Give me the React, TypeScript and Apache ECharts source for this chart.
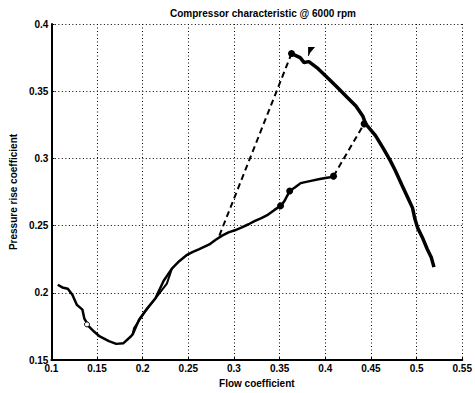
import React, { useEffect, useRef } from "react";
import * as echarts from "echarts";

const xTicks = [0.1, 0.15, 0.2, 0.25, 0.3, 0.35, 0.4, 0.45, 0.5, 0.55];
const yTicks = [0.15, 0.2, 0.25, 0.3, 0.35, 0.4];

// main solid branch: start -> minimum -> rising branch up to (0.409, 0.287)
const mainFlow = [0.107, 0.112, 0.118, 0.123, 0.128, 0.134, 0.136, 0.141, 0.147, 0.153, 0.163, 0.171, 0.179, 0.187, 0.189, 0.196, 0.205, 0.214, 0.223, 0.232, 0.240, 0.248, 0.255, 0.262, 0.273, 0.280, 0.287, 0.294, 0.301, 0.308, 0.316, 0.323, 0.330, 0.337, 0.344, 0.351, 0.355, 0.361, 0.367, 0.373, 0.383, 0.394, 0.405, 0.409];
const mainPress = [0.206, 0.204, 0.203, 0.1985, 0.191, 0.1875, 0.181, 0.175, 0.171, 0.1675, 0.164, 0.162, 0.1625, 0.1675, 0.169, 0.18, 0.1885, 0.196, 0.209, 0.218, 0.2235, 0.228, 0.2305, 0.2325, 0.236, 0.2395, 0.2425, 0.245, 0.2465, 0.2485, 0.251, 0.2535, 0.2555, 0.258, 0.2615, 0.2647, 0.268, 0.2757, 0.2785, 0.2816, 0.2831, 0.2846, 0.286, 0.2868];

// second strand of the small loop near the minimum
const loopFlow = [0.189, 0.1906, 0.2015, 0.214, 0.2265, 0.232];
const loopPress = [0.169, 0.1738, 0.1848, 0.1958, 0.2068, 0.218];

// dashed jump from the rising branch up to the peak
const jumpUpFlow = [0.284, 0.363];
const jumpUpPress = [0.2426, 0.378];

// solid branch from the peak down to the end
const descFlow = [0.363, 0.3725, 0.3768, 0.382, 0.3907, 0.401, 0.412, 0.4228, 0.4335, 0.441, 0.4442, 0.455, 0.4635, 0.471, 0.4765, 0.484, 0.4905, 0.4955, 0.4978, 0.501, 0.5063, 0.5117, 0.516, 0.519];
const descPress = [0.378, 0.375, 0.3713, 0.372, 0.3676, 0.361, 0.3537, 0.3463, 0.339, 0.3316, 0.3257, 0.317, 0.3074, 0.2985, 0.2912, 0.2801, 0.2706, 0.2632, 0.2559, 0.2485, 0.2412, 0.2324, 0.2265, 0.2191];

// dashed jump from (0.409, 0.287) to the descending branch
const jumpRightFlow = [0.409, 0.4425];
const jumpRightPress = [0.2868, 0.3257];

// marked operating points
const dotFlow = [0.351, 0.361, 0.409, 0.4425, 0.363];
const dotPress = [0.2647, 0.2757, 0.2868, 0.3257, 0.378];

// small open marker on the falling left branch
const ringFlow = [0.139];
const ringPress = [0.1765];

const flagFlow = [0.385];
const flagPress = [0.3795];

const zip = (a: number[], b: number[]) => a.map((v, i) => [v, b[i]]);

export default function App() {
  const ref = useRef<HTMLDivElement>(null);
  useEffect(() => {
    document.body.style.margin = "0";
    const chart = echarts.init(ref.current!, undefined, { renderer: "svg" });
    const font = "Liberation Sans";
    const solid = (data: number[][], w: number) => ({
      type: "line",
      data,
      showSymbol: false,
      lineStyle: { color: "#000", width: w, type: "solid" },
      z: 3,
    });
    const dashed = (data: number[][]) => ({
      type: "line",
      data,
      showSymbol: false,
      lineStyle: { color: "#000", width: 2, type: [6, 4] },
      z: 3,
    });
    chart.setOption({
      animation: false,
      backgroundColor: "#fff",
      title: {
        text: "Compressor characteristic @ 6000 rpm",
        left: 258,
        textAlign: "center",
        top: 3,
        textStyle: { fontFamily: font, fontSize: 10, fontWeight: "bold", color: "#000" },
      },
      grid: { left: 48.5, right: 7, top: 24, bottom: 29 },
      xAxis: {
        type: "value",
        min: 0.1,
        max: 0.55,
        interval: 0.05,
        name: "Flow coefficient",
        nameLocation: "middle",
        nameGap: 18,
        nameTextStyle: { fontFamily: font, fontSize: 10, fontWeight: "bold", color: "#000" },
        axisLine: { show: true, onZero: false, lineStyle: { color: "#000", width: 2 } },
        axisTick: { show: true, inside: true, length: 3, lineStyle: { color: "#000" } },
        axisLabel: {
          fontFamily: font,
          fontSize: 10,
          fontWeight: "bold",
          color: "#000",
          margin: 3,
          formatter: (v: number) => {
            const t = xTicks.find((x) => Math.abs(x - v) < 1e-6);
            return t === undefined ? "" : String(t);
          },
        },
        splitLine: { show: true, lineStyle: { color: "#000", width: 1, type: [1, 2.5] } },
      },
      yAxis: {
        type: "value",
        min: 0.15,
        max: 0.4,
        interval: 0.05,
        name: "Pressure rise coefficient",
        nameLocation: "middle",
        nameGap: 23,
        nameTextStyle: { fontFamily: font, fontSize: 10, fontWeight: "bold", color: "#000" },
        axisLine: { show: true, onZero: false, lineStyle: { color: "#000", width: 2 } },
        axisTick: { show: true, inside: true, length: 3, lineStyle: { color: "#000" } },
        axisLabel: {
          fontFamily: font,
          fontSize: 10,
          fontWeight: "bold",
          color: "#000",
          margin: 3,
          formatter: (v: number) => {
            const t = yTicks.find((y) => Math.abs(y - v) < 1e-6);
            return t === undefined ? "" : String(t);
          },
        },
        splitLine: { show: true, lineStyle: { color: "#000", width: 1, type: [1, 2.5] } },
      },
      series: [
        solid(zip(mainFlow, mainPress), 2.5),
        solid(zip(loopFlow, loopPress), 2),
        dashed(zip(jumpUpFlow, jumpUpPress)),
        solid(zip(descFlow, descPress), 3.5),
        dashed(zip(jumpRightFlow, jumpRightPress)),
        {
          type: "scatter",
          data: zip(dotFlow, dotPress),
          symbol: "circle",
          symbolSize: 7,
          itemStyle: { color: "#000", opacity: 1 },
          z: 4,
        },
        {
          type: "scatter",
          data: zip(ringFlow, ringPress),
          symbol: "circle",
          symbolSize: 5,
          itemStyle: { color: "#fff", borderColor: "#000", borderWidth: 1, opacity: 1 },
          z: 4,
        },
        {
          type: "scatter",
          data: zip(flagFlow, flagPress),
          symbol: "path://M0,0 L10,0 L3,7 L1,11 L0,11 Z",
          symbolSize: [7, 9],
          itemStyle: { color: "#000", opacity: 1 },
          z: 4,
        },
      ],
    });
    return () => chart.dispose();
  }, []);
  return <div ref={ref} style={{ width: 475, height: 393 }} />;
}
